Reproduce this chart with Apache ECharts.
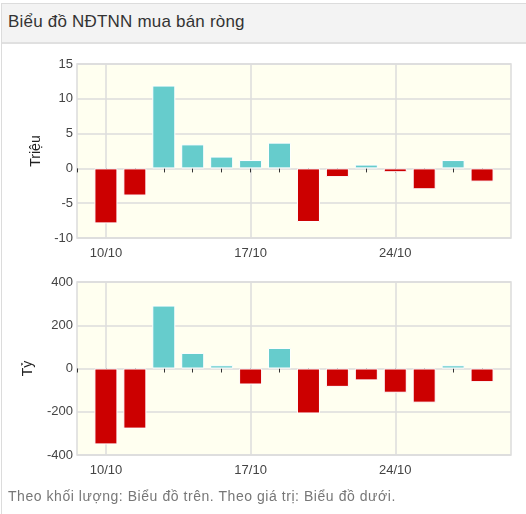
<!DOCTYPE html>
<html>
<head>
<meta charset="utf-8">
<script src="https://cdn.jsdelivr.net/npm/echarts@6/dist/echarts.min.js"></script>
<style>
  html, body { margin: 0; padding: 0; width: 526px; height: 514px; background: #fff; overflow: hidden; font-family: Arial, "Liberation Sans", sans-serif; }
  #frame { position: absolute; left: 1px; top: 3px; width: 530px; height: 520px; border-left: 1px solid #dcdcdc; border-top: 1px solid #dcdcdc; }
  #header { position: absolute; left: 2px; top: 4px; width: 530px; height: 38px; background: #f3f3f3; border-bottom: 2px solid #e0e0e0; }
  #header span { position: absolute; left: 6px; top: 8px; font-size: 17px; letter-spacing: 0.2px; color: #333; }
  #chart { position: absolute; left: 0; top: 0; width: 526px; height: 514px; }
  #footer { position: absolute; left: 8px; top: 488px; font-size: 14px; letter-spacing: 0.55px; color: #777; white-space: nowrap; }
</style>
</head>
<body>
<div id="frame"></div>
<div id="header"><span>Biểu đồ NĐTNN mua bán ròng</span></div>
<div id="chart"></div>
<div id="footer">Theo khối lượng: Biểu đồ trên. Theo giá trị: Biểu đồ dưới.</div>
<script>
// Trading days (category axis)
var dates = ['10/10','13/10','14/10','15/10','16/10','17/10','20/10','21/10','22/10','23/10','24/10','27/10','28/10','29/10'];
// Net buy/sell by volume (million shares)
var volume = [-7.9, -3.9, 11.9, 3.45, 1.7, 1.2, 3.7, -7.7, -1.25, 0.55, -0.55, -3.0, 1.2, -1.9];
// Net buy/sell by value (billion VND)
var value = [-351, -278, 291, 72, 15, -74, 95, -208, -85, -55, -112, -158, 15, -63];
// Labelled x ticks
var tickLabels = ['10/10','17/10','24/10'];
// Y axis ranges
var volAxis = { min: -10, max: 15, interval: 5, name: 'Triệu' };
var valAxis = { min: -400, max: 400, interval: 200, name: 'Tỷ' };

var RED = '#cc0000', CYAN = '#66cccc';
var cats = [''].concat(dates).concat(['']);
function pad(arr) { return [null].concat(arr).concat([null]); }
var lastIdx = cats.length - 1;

var font = 'Arial, "Liberation Sans", sans-serif';

function xAxis(gi) {
  return {
    type: 'category', gridIndex: gi, data: cats, boundaryGap: false,
    axisLine: { show: false },
    axisTick: { show: true, length: 4, lineStyle: { color: '#333', width: 1 },
      interval: function (i) { return i !== lastIdx; } },
    axisLabel: { color: '#444', fontSize: 13, fontFamily: font, margin: 9,
      interval: function (i, v) { return tickLabels.indexOf(v) >= 0; } },
    splitLine: { show: true, lineStyle: { color: '#dcdcdc', width: 1.5 },
      interval: function (i, v) { return tickLabels.indexOf(v) >= 0; } }
  };
}
function yAxis(gi, a, gap) {
  return {
    type: 'value', gridIndex: gi, min: a.min, max: a.max, interval: a.interval,
    name: a.name, nameLocation: 'middle', nameGap: gap, nameRotate: 90,
    nameTextStyle: { color: '#222', fontSize: 14, fontFamily: font },
    axisLine: { show: false }, axisTick: { show: false },
    axisLabel: { color: '#444', fontSize: 13, fontFamily: font, margin: 4 },
    splitLine: { show: true, lineStyle: { color: '#dcdcdc', width: 1.5 } }
  };
}
function barSeries(gi, arr) {
  return {
    type: 'bar', xAxisIndex: gi, yAxisIndex: gi, data: pad(arr), barWidth: 23,
    itemStyle: {
      color: function (p) { return p.value < 0 ? RED : CYAN; },
      borderColor: '#ffffff', borderWidth: 1
    },
    silent: true, animation: false
  };
}

var chart = echarts.init(document.getElementById('chart'), null, { renderer: 'canvas' });
chart.setOption({
  animation: false,
  grid: [
    { left: 77, right: 15, top: 64, height: 174, show: true, backgroundColor: '#fffff0', borderColor: '#dcdcdc', borderWidth: 1.5 },
    { left: 77, right: 15, top: 282, height: 173, show: true, backgroundColor: '#fffff0', borderColor: '#dcdcdc', borderWidth: 1.5 }
  ],
  xAxis: [xAxis(0), xAxis(1)],
  yAxis: [yAxis(0, volAxis, 22), yAxis(1, valAxis, 42)],
  series: [barSeries(0, volume), barSeries(1, value)]
});
</script>
</body>
</html>
